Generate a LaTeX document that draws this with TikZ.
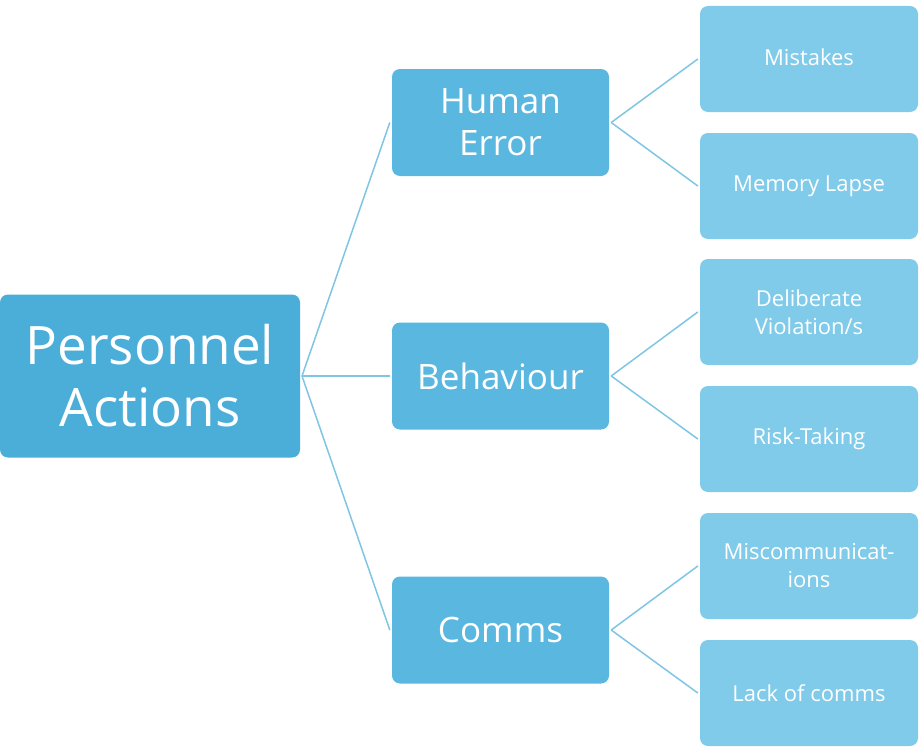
\documentclass[tikz,border=0pt]{standalone}
\usepackage{fontspec}
\setmainfont{Open Sans}
\begin{document}
\begin{tikzpicture}[x=1pt,y=-1pt,
 box/.style={draw=none,rounded corners=8pt,text=white,align=center,inner sep=0pt},
 root/.style={box,fill=c1,minimum width=300pt,minimum height=163pt,font=\fontsize{53}{62}\selectfont},
 mid/.style={box,fill=c2,minimum width=217pt,minimum height=107pt,font=\fontsize{35}{42}\selectfont},
 leaf/.style={box,fill=c3,minimum width=218pt,minimum height=106pt,font=\fontsize{22}{28}\selectfont},
 ln/.style={draw=c4,line width=1.5pt}]
\definecolor{c1}{HTML}{4AAED9}
\definecolor{c2}{HTML}{5AB8E0}
\definecolor{c3}{HTML}{80CBEA}
\definecolor{c4}{HTML}{80C6E4}
\fill[white] (0,0) rectangle (923,752);
\useasboundingbox (0,0) rectangle (923,752);
\node[root] (r) at (150,376) {Personnel\\Actions};
\node[mid] (m1) at (500.5,122.5) {Human\\Error};
\node[mid] (m2) at (500.5,376) {Behaviour};
\node[mid] (m3) at (500.5,630) {Comms};
\node[leaf] (l1) at (809,59) {};
\node[leaf,fill=none] at (809,57) {Mistakes};
\node[leaf] (l2) at (809,186) {Memory Lapse};
\node[leaf] (l3) at (809,312) {Deliberate\\Violation/s};
\node[leaf] (l4) at (809,439) {Risk-Taking};
\node[leaf] (l5) at (809,566) {Miscommunicat-\\ions};
\node[leaf] (l6) at (809,693) {Lack of comms};
\coordinate (a) at (302,376);
\foreach \m in {m1,m2,m3} \draw[ln] (a) -- ([xshift=-2pt]\m.west);
\foreach \m/\p/\q in {m1/l1/l2,m2/l3/l4,m3/l5/l6}{
 \draw[ln] ([xshift=2pt]\m.east) -- ([xshift=-2pt]\p.west);
 \draw[ln] ([xshift=2pt]\m.east) -- ([xshift=-2pt]\q.west);}
\end{tikzpicture}
\end{document}
